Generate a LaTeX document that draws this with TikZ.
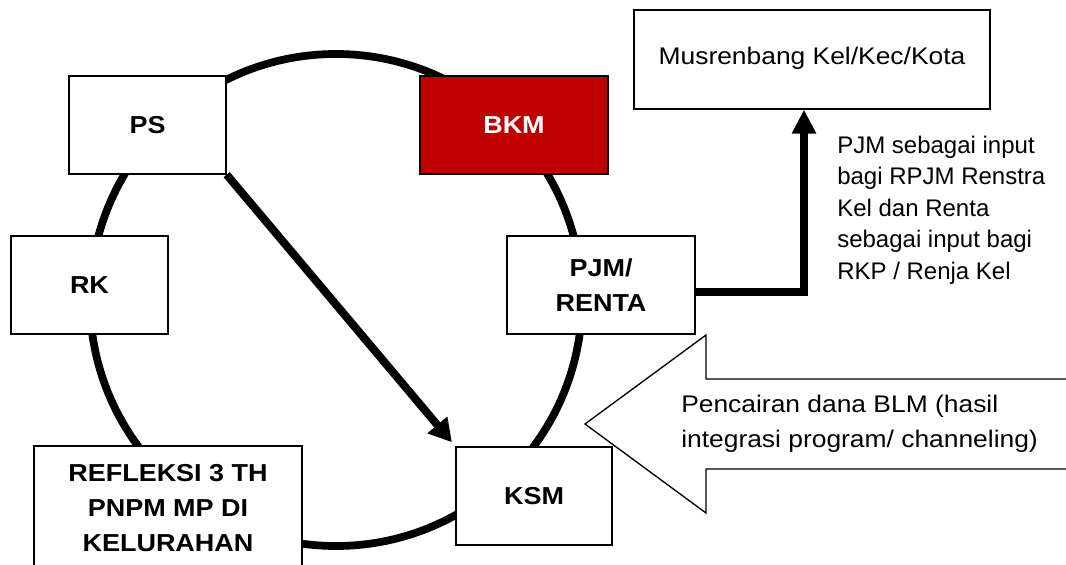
\documentclass[tikz,border=0pt]{standalone}
\usepackage{fontspec}
\setmainfont{Liberation Sans}[FakeStretch=1.1]
\newfontfamily\lblfont{Liberation Sans}
\usetikzlibrary{arrows.meta}
\definecolor{bkmred}{RGB}{192,0,0}
\begin{document}
\begin{tikzpicture}[x=0.75pt,y=-0.75pt,
  box/.style={draw=black,line width=1pt,fill=white,inner sep=0pt,align=center,
    font=\bfseries\fontsize{18.4}{26.25}\selectfont},
  ring/.style={line width=5.8pt},
  bigarrow/.style={line width=1pt,fill=white,line join=miter},
  diagarrow/.style={line width=6pt,-{Triangle[length=17pt,width=18.4pt]}},
  uparrow/.style={line width=6.2pt,line join=miter,-{Triangle[length=18pt,width=17.25pt]}},
  plaintext/.style={anchor=north west,inner sep=0pt,align=left}]
\useasboundingbox (0,0) rectangle (1066,564);
% cycle ring
\draw[ring] (336,300) circle[radius=184.5pt];
% block arrow
\draw[bigarrow] (1080,379) -- (706,379) -- (706,335) -- (585,424) -- (706,513) -- (706,469) -- (1080,469);
% boxes
\node[box, minimum width=117.75pt, minimum height=73.5pt] (ps) at (147.5,125) {PS};
\node[box, fill=bkmred, text=white, minimum width=141pt, minimum height=73.5pt] (bkm) at (514,125) {BKM};
\node[box, minimum width=117.75pt, minimum height=73.5pt] (rk) at (89.5,285) {RK};
\node[box, minimum width=141pt, minimum height=73.5pt] (pjm) at (601,285) {PJM/\\RENTA};
\node[box, minimum width=117pt, minimum height=73.5pt] (ksm) at (534,496) {KSM};
\node[box, minimum width=201pt, minimum height=93.75pt] (ref) at (168,508.5) {REFLEKSI 3 TH\\PNPM MP DI\\KELURAHAN};
\node[draw, line width=1pt, fill=white, inner sep=0pt, minimum width=267pt, minimum height=74.25pt] (mus) at (812,59.5) {};
\node[anchor=base, inner sep=0pt, font=\fontsize{18}{21}\selectfont] (mustext) at (812,64) {Musrenbang Kel/Kec/Kota};
% texts
\node[plaintext, font=\lblfont\fontsize{18}{23.6}\selectfont] (lbl) at (837,135.5)
  {PJM sebagai input\\bagi RPJM Renstra\\Kel dan Renta\\sebagai input bagi\\RKP / Renja Kel};
\node[plaintext, font=\fontsize{18}{26.25}\selectfont] (penc) at (681,395)
  {Pencairan dana BLM (hasil\\integrasi program/ channeling)};
% connectors
\draw[diagarrow, shorten >=4pt] (ps.south east) -- (ksm.north west);
\draw[uparrow] ([yshift=-5.25pt]pjm.east) -| ([xshift=-6pt]mus.south);
\end{tikzpicture}
\end{document}
